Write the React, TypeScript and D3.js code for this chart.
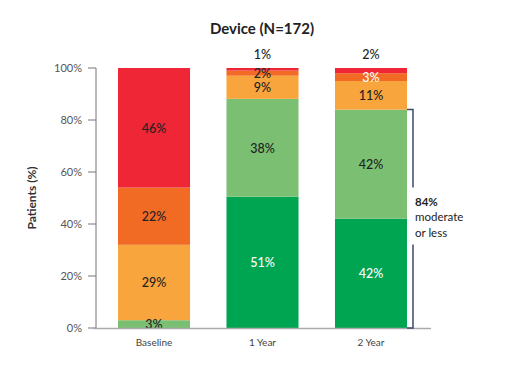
import React from "react";
import * as d3 from "d3";

// categories and stacked values (bottom -> top)
const categories = ["Baseline", "1 Year", "2 Year"];
const severities = ["none/trace", "mild", "moderate", "moderate-severe", "severe"];
const colors = ["#00A551", "#7BBF73", "#F9A53D", "#F26B25", "#EE2636"];
const values: number[][] = [
  [0, 3, 29, 22, 46],
  [51, 38, 9, 2, 1],
  [42, 42, 11, 3, 2],
];
const whiteLabel: boolean[][] = [
  [false, false, false, false, false],
  [true, false, false, false, false],
  [true, false, false, true, false],
];
const yTicks = [0, 20, 40, 60, 80, 100];
const bracketText = ["84%", "moderate", "or less"];

const W = 514;
const H = 372;
const margin = { top: 68, left: 96, bottom: 44, right: 82 };

const App: React.FC = () => {
  const innerH = H - margin.top - margin.bottom;
  const y = d3.scaleLinear().domain([0, 100]).range([margin.top + innerH, margin.top]);
  const x = d3
    .scaleBand()
    .domain(categories)
    .range([100, 425])
    .paddingInner(0.336)
    .paddingOuter(0.166);

  const font = "Lato, 'Open Sans', sans-serif";
  const last = values[values.length - 1];
  const bracketTop = last[0] + last[1];
  const bx = (x("2 Year") as number) + x.bandwidth() + 6;
  const by = y(bracketTop);

  return (
    <svg width={W} height={H} style={{ position: "absolute", left: 0, top: 0 }} fontFamily={font}>
      <rect width={W} height={H} fill="#fff" />
      <text x={262} y={34} textAnchor="middle" fontSize={15} fontWeight={700} fill="#222">
        Device (N=172)
      </text>

      {/* y axis */}
      <line x1={margin.left} x2={margin.left} y1={y(100)} y2={y(0)} stroke="#777" strokeWidth={1} />
      {yTicks.map(t => (
        <g key={t}>
          <line x1={margin.left - 8} x2={margin.left} y1={y(t)} y2={y(t)} stroke="#777" />
          <text x={margin.left - 14} y={y(t)} dy="0.35em" textAnchor="end" fontSize={11} fill="#555">
            {t}%
          </text>
        </g>
      ))}
      <text
        transform={`translate(36,${y(50)}) rotate(-90)`}
        textAnchor="middle"
        fontSize={12}
        fontWeight={700}
        fill="#333"
      >
        Patients (%)
      </text>

      {/* bars (rounded percentages normalised so each stack fills 100%) */}
      {categories.map((c, ci) => {
        const total = d3.sum(values[ci]);
        const norm = values[ci].map(v => (v * 100) / total);
        const stack = d3.cumsum(norm);
        const x0 = x(c) as number;
        const bw = x.bandwidth();
        return (
          <g key={c}>
            {norm.map((v, si) => {
              if (v === 0) return null;
              const lo = stack[si] - v;
              return (
                <rect
                  key={si}
                  x={x0}
                  y={y(stack[si])}
                  width={bw}
                  height={y(lo) - y(stack[si])}
                  fill={colors[si]}
                />
              );
            })}
            {norm.map((v, si) => {
              if (v === 0) return null;
              const lo = stack[si] - v;
              const top = si === severities.length - 1 && values[ci][si] <= 2;
              const ly = top ? y(100) - 13 : y(lo + v / 2) + 0.5;
              return (
                <text
                  key={"l" + si}
                  x={x0 + bw / 2}
                  y={ly}
                  dy="0.35em"
                  textAnchor="middle"
                  fontSize={12.5}
                  fontWeight={500}
                  fill={whiteLabel[ci][si] ? "#fff" : "#222"}
                >
                  {values[ci][si]}%
                </text>
              );
            })}
            <text x={x0 + bw / 2} y={y(0) + 18} textAnchor="middle" fontSize={10} fill="#444">
              {c}
            </text>
          </g>
        );
      })}

      {/* x baseline */}
      <line x1={margin.left - 3} x2={431} y1={y(0) + 0.5} y2={y(0) + 0.5} stroke="#aaa" strokeWidth={1.5} />

      {/* bracket */}
      <path
        d={`M${bx - 6},${by} H${bx} V${by + 78}`}
        fill="none"
        stroke="#3B4A6B"
        strokeWidth={1.5}
      />
      <path
        d={`M${bx},${by + 135} V${y(0)} H${bx - 6}`}
        fill="none"
        stroke="#3B4A6B"
        strokeWidth={1.5}
      />
      {bracketText.map((t, i) => (
        <text
          key={t}
          x={bx + 2}
          y={by + 92 + i * 15.5}
          dy="0.35em"
          fontSize={11.5}
          fontWeight={i === 0 ? 700 : 400}
          fill="#222"
        >
          {t}
        </text>
      ))}
    </svg>
  );
};

export default App;
